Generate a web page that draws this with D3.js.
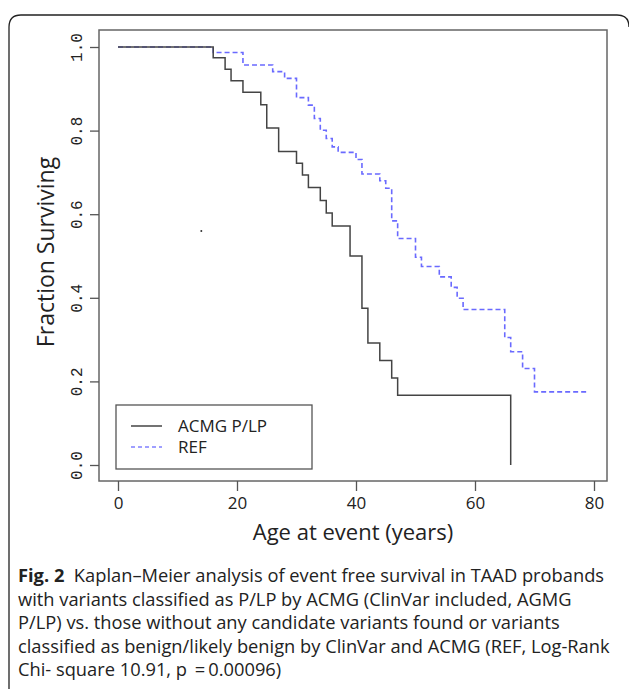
<!DOCTYPE html>
<html>
<head>
<meta charset="utf-8">
<script src="https://cdn.jsdelivr.net/npm/d3@7"></script>
<style>
  body { margin: 0; background: #fff; }
  svg { display: block; }
</style>
</head>
<body>
<div id="chart"></div>
<script>
// Kaplan-Meier step data (age in years, fraction surviving)
const acmgAges = [0, 16, 18, 19, 21, 24, 25, 27, 30, 31, 32, 34, 35, 36, 39, 41, 42, 44, 46, 47, 66];
const acmgSurv = [1.0, 0.974, 0.947, 0.919, 0.892, 0.862, 0.806, 0.750, 0.722, 0.694, 0.664, 0.633, 0.603, 0.572, 0.500, 0.375, 0.292, 0.250, 0.208, 0.167, 0.0];

const refAges = [0, 16, 21, 26, 28, 30, 32, 33, 34, 35, 36, 37, 40, 41, 44, 45, 46, 47, 50, 51, 54, 56, 57, 58, 65, 66, 68, 70, 79];
const refSurv = [1.0, 0.987, 0.957, 0.941, 0.925, 0.879, 0.861, 0.829, 0.801, 0.781, 0.761, 0.748, 0.731, 0.696, 0.680, 0.662, 0.584, 0.542, 0.497, 0.475, 0.450, 0.425, 0.399, 0.372, 0.305, 0.271, 0.231, 0.175, 0.175];

// stray speck in the original figure
const strayAge = [14];
const straySurv = [0.56];

const xTicks = [0, 20, 40, 60, 80];
const yTicks = [0, 0.2, 0.4, 0.6, 0.8, 1.0];

const legendLabels = ["ACMG P/LP", "REF"];

const captionLines = [
  ["Fig. 2", "  Kaplan\u2013Meier analysis of event free survival in TAAD probands"],
  ["", "with variants classified as P/LP by ACMG (ClinVar included, AGMG"],
  ["", "P/LP) vs. those without any candidate variants found or variants"],
  ["", "classified as benign/likely benign by ClinVar and ACMG (REF, Log-Rank"],
  ["", "Chi- square 10.91, p \u2009=\u20090.00096)"]
];

const W = 629, H = 689;
const svg = d3.select("#chart").append("svg")
    .attr("width", W)
    .attr("height", H);

// outer figure frame (rounded top corners, open at bottom)
svg.append("path")
    .attr("d", "M9,689 L9,27 Q9,15 21,15 L617,15 Q629,15 629,27")
    .attr("fill", "none")
    .attr("stroke", "#222")
    .attr("stroke-width", 1.3);

// plot box
const box = {left: 99, top: 30, right: 607, bottom: 481};
svg.append("rect")
    .attr("x", box.left)
    .attr("y", box.top)
    .attr("width", box.right - box.left)
    .attr("height", box.bottom - box.top)
    .attr("fill", "none")
    .attr("stroke", "#666")
    .attr("stroke-width", 1.5);

// scales
const x = d3.scaleLinear().domain([0, 80]).range([118, 594]);
const y = d3.scaleLinear().domain([0, 1]).range([465, 47]);

// x axis
const xAxis = svg.append("g")
    .attr("transform", `translate(0, ${box.bottom})`)
    .call(d3.axisBottom(x).tickValues(xTicks).tickSize(10).tickPadding(6).tickFormat(d3.format("d")));
xAxis.select(".domain").remove();
xAxis.selectAll("line").attr("stroke", "#555").attr("stroke-width", 1.3);
xAxis.selectAll("text")
    .attr("font-family", "Open Sans, sans-serif")
    .attr("font-size", 17)
    .attr("fill", "#222");

// y axis
const yAxis = svg.append("g")
    .attr("transform", `translate(${box.left}, 0)`)
    .call(d3.axisLeft(y).tickValues(yTicks).tickSize(9).tickFormat(d3.format(".1f")));
yAxis.select(".domain").remove();
yAxis.selectAll("line").attr("stroke", "#555").attr("stroke-width", 1.3);
yAxis.selectAll("text")
    .attr("font-family", "Liberation Mono, monospace")
    .attr("font-size", 16)
    .attr("fill", "#222")
    .attr("text-anchor", "middle")
    .attr("x", null)
    .attr("dy", null)
    .attr("transform", "translate(-23, 0) rotate(-90)")
    .attr("dy", "0.35em");

// axis titles
svg.append("text")
    .attr("x", 353)
    .attr("y", 540)
    .attr("text-anchor", "middle")
    .attr("font-family", "Open Sans, sans-serif")
    .attr("font-size", 22)
    .attr("fill", "#222")
    .text("Age at event (years)");

svg.append("text")
    .attr("transform", "translate(54, 252) rotate(-90)")
    .attr("text-anchor", "middle")
    .attr("font-family", "Open Sans, sans-serif")
    .attr("font-size", 23)
    .attr("fill", "#222")
    .text("Fraction Surviving");

// survival curves
const line = d3.line()
    .x(d => x(d[0]))
    .y(d => y(d[1]))
    .curve(d3.curveStepAfter);

const acmg = acmgAges.map((a, i) => [a, acmgSurv[i]]);
const ref = refAges.map((a, i) => [a, refSurv[i]]);

svg.append("path")
    .datum(ref)
    .attr("d", line)
    .attr("fill", "none")
    .attr("stroke", "#6a6aff")
    .attr("stroke-width", 1.6)
    .attr("stroke-dasharray", "5,3");

svg.append("path")
    .datum(acmg)
    .attr("d", line)
    .attr("fill", "none")
    .attr("stroke", "#444")
    .attr("stroke-width", 1.5);

svg.selectAll(".stray")
    .data(strayAge)
    .enter()
    .append("circle")
    .attr("class", "stray")
    .attr("cx", (d, i) => x(d))
    .attr("cy", (d, i) => y(straySurv[i]))
    .attr("r", 1)
    .attr("fill", "#333");

// legend
const legend = svg.append("g");
legend.append("rect")
    .attr("x", 116)
    .attr("y", 405)
    .attr("width", 196)
    .attr("height", 64)
    .attr("fill", "#fff")
    .attr("stroke", "#555")
    .attr("stroke-width", 1.3);

const legendStyles = [
    {stroke: "#444", dash: null},
    {stroke: "#8080ff", dash: "4,3"}
];
legendLabels.forEach((lab, i) => {
    const ly = 426 + i * 21;
    legend.append("line")
        .attr("x1", 131).attr("x2", 162)
        .attr("y1", ly).attr("y2", ly)
        .attr("stroke", legendStyles[i].stroke)
        .attr("stroke-width", 1.5)
        .attr("stroke-dasharray", legendStyles[i].dash);
    legend.append("text")
        .attr("x", 178)
        .attr("y", ly)
        .attr("dy", "0.35em")
        .attr("font-family", "Open Sans, sans-serif")
        .attr("font-size", 17)
        .attr("fill", "#222")
        .text(lab);
});

// caption
const cap = svg.append("g")
    .attr("font-family", "Open Sans, sans-serif")
    .attr("font-size", 18.3)
    .attr("fill", "#222");
captionLines.forEach((ln, i) => {
    const t = cap.append("text")
        .attr("x", 18)
        .attr("y", 582 + i * 23.6)
        .attr("xml:space", "preserve");
    if (ln[0]) {
        t.append("tspan").attr("font-weight", "bold").text(ln[0]);
    }
    t.append("tspan").text(ln[1]);
});
</script>
</body>
</html>
